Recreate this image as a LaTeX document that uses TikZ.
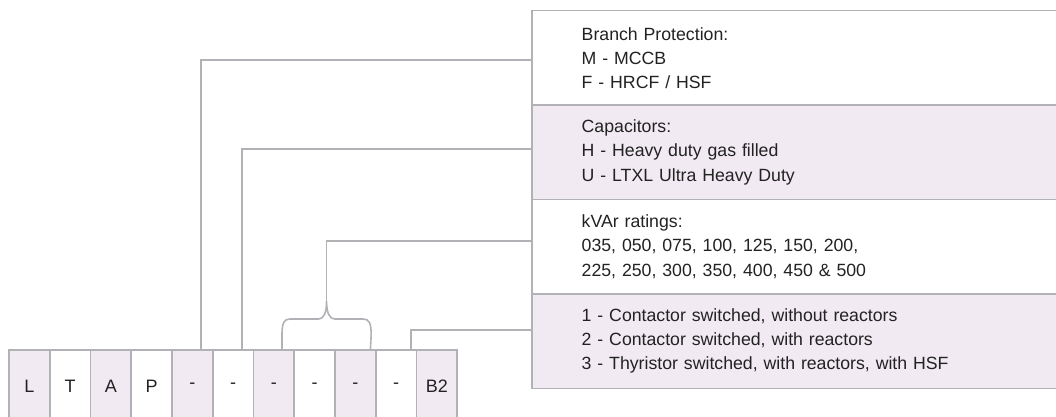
\documentclass[tikz,border=0pt]{standalone}
\usepackage{fontspec}
\setmainfont{Liberation Sans}
\usepackage{tikz}
\usetikzlibrary{positioning}
\definecolor{lav}{RGB}{241,234,242}
\definecolor{rule}{RGB}{178,178,182}
\definecolor{ink}{RGB}{34,34,34}

\begin{document}
\begin{tikzpicture}[x=1pt, y=-1pt,
	cell/.style={rectangle,draw=rule,line width=1.6pt,minimum width=40.75pt,minimum height=72pt,outer sep=0pt,text=ink,font=\fontsize{18}{21}\selectfont},
	infobox/.style={rectangle,draw=rule,line width=1.6pt,text width=480pt,inner xsep=49.7pt,minimum height=94.4pt,outer sep=0pt,align=left,text=ink,font=\fontsize{17.7}{24.2}\selectfont},
	conn/.style={draw=rule,line width=1.6pt},
	node distance=40.75pt]
	\useasboundingbox (0,0) rectangle (1056,417);

	% code cells
	\node[cell,fill=lav] (c1) at (29.4,386) {L};
	\node[cell,right of=c1] (c2) {T};
	\node[cell,fill=lav,right of=c2] (c3) {A};
	\node[cell,right of=c3] (c4) {P};
	\node[cell,fill=lav,right of=c4] (c5) {-};
	\node[cell,right of=c5] (c6) {-};
	\node[cell,fill=lav,right of=c6] (c7) {-};
	\node[cell,right of=c7] (c8) {-};
	\node[cell,fill=lav,right of=c8] (c9) {-};
	\node[cell,right of=c9] (c10) {-};
	\node[cell,fill=lav,right of=c10] (c11) {B2};

	% option boxes
	\node[infobox,anchor=north west] (bp) at (532,10.7) {Branch Protection:\\M - MCCB\\F - HRCF / HSF};
	\node[infobox,fill=lav,below of=bp,node distance=94.4pt] (cap) {Capacitors:\\H - Heavy duty gas filled\\U - LTXL Ultra Heavy Duty};
	\node[infobox,below of=cap,node distance=94.4pt] (kvar) {kVAr ratings:\\035, 050, 075, 100, 125, 150, 200,\\225, 250, 300, 350, 400, 450 \& 500};
	\node[infobox,fill=lav,below of=kvar,node distance=94.4pt] (sw) {1 - Contactor switched, without reactors\\2 - Contactor switched, with reactors\\3 - Thyristor switched, with reactors, with HSF};

	% leaders
	\draw[conn] ([xshift=-11.7pt]c5.north east) |- ([yshift=-2pt]bp.west);
	\draw[conn] ([xshift=-11.3pt]c6.north east) |- ([yshift=3.4pt]cap.west);
	\draw[conn] ([xshift=-12.3pt]c7.north east) -- ++(0,-15)
		.. controls +(0,-12) and +(-6,0) .. ++(8,-16) -- ++(28.6,0)
		.. controls +(5,0) and +(0,12) .. ++(8,-18) coordinate (tip)
		.. controls +(0,12) and +(-5,0) .. ++(8,18) -- ++(28.6,0)
		.. controls +(6,0) and +(0,-12) .. ++(8,16) -- ([xshift=-5.4pt]c9.north east);
	\draw[conn] (tip) |- ([yshift=5.9pt]kvar.west);
	\draw[conn] ([xshift=-5.3pt]c10.north east) |- ([yshift=11.4pt]sw.west);
\end{tikzpicture}
\end{document}
